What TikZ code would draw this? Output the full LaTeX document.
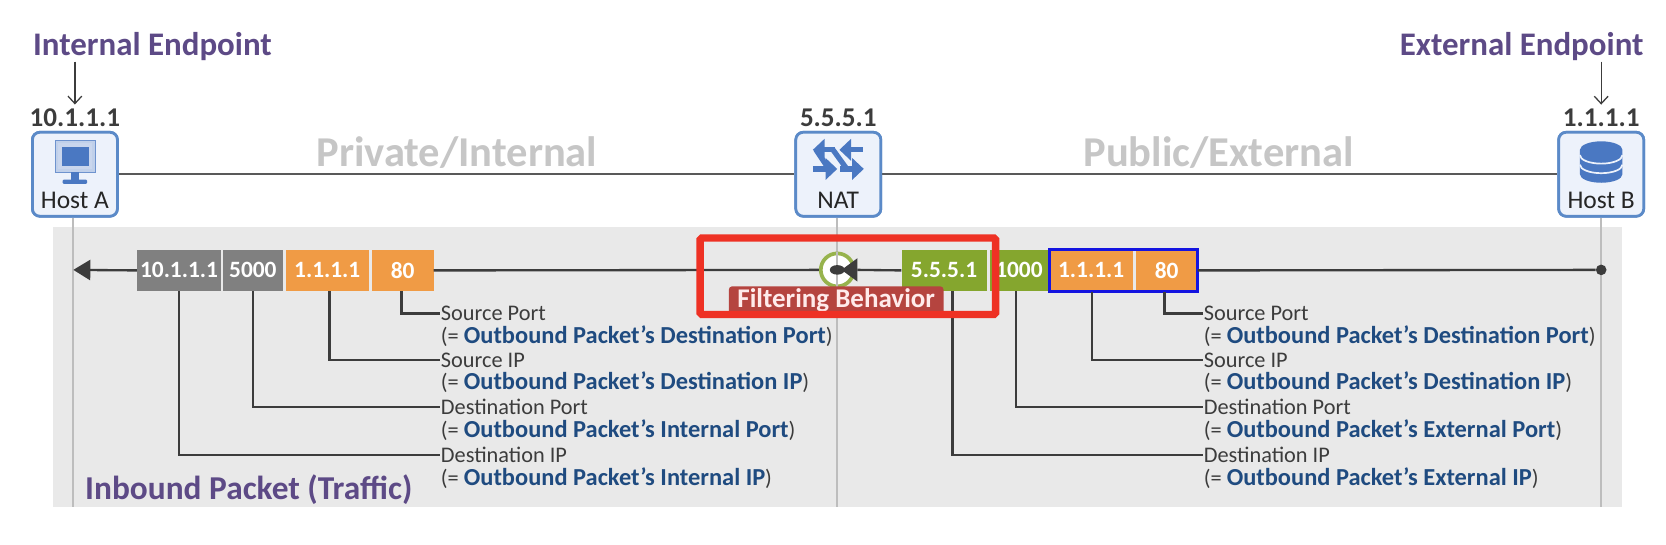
\documentclass[tikz,border=0pt]{standalone}
\usepackage{fontspec}
\setmainfont{Carlito}
\usetikzlibrary{calc,arrows.meta}
\definecolor{panelgray}{HTML}{E9E9E9}
\definecolor{vline}{HTML}{BDBDBD}
\definecolor{ink}{HTML}{3C3C3C}
\definecolor{purp}{HTML}{5D4A86}
\definecolor{zone}{HTML}{C6C6C6}
\definecolor{hostfill}{HTML}{EDF2FB}
\definecolor{hostline}{HTML}{5B8AC8}
\definecolor{iconblue}{HTML}{4A78C2}
\definecolor{pgray}{HTML}{808080}
\definecolor{porange}{HTML}{F09B45}
\definecolor{pgreen}{HTML}{85A62E}
\definecolor{navy}{HTML}{1F4B80}
\definecolor{redlabel}{HTML}{B5443F}
\definecolor{redbox}{HTML}{EE3124}
\definecolor{bluebox}{HTML}{1414E0}
\tikzset{
  x=1pt,y=-1pt,
  hostbox/.style={draw=hostline,line width=2.6pt,fill=hostfill,rounded corners=7pt,minimum width=80pt,minimum height=79pt,inner sep=0pt},
  hosttext/.style={font=\fontsize{24}{24}\selectfont,text=black!85,inner sep=0pt},
  iptext/.style={font=\fontsize{25.5}{25.5}\selectfont\bfseries,text=ink,inner sep=0pt},
  endtitle/.style={font=\fontsize{31}{31}\selectfont\bfseries,text=purp,inner sep=0pt},
  zonetext/.style={font=\fontsize{40}{40}\selectfont\bfseries,text=zone,inner sep=0pt},
  field/.style={minimum height=39pt,inner sep=0pt,text=white,font=\fontsize{22}{22}\selectfont\bfseries},
  lbl/.style={anchor=west,inner sep=0pt,outer sep=1pt,text=ink,font=\fontsize{21}{21}\selectfont},
  sub/.style={anchor=west,inner sep=0pt,outer sep=1pt,text=ink,font=\fontsize{21}{21}\selectfont},
  conn/.style={draw=ink,line width=2.2pt},
  thinarrow/.style={draw=ink,line width=1.2pt,-{Straight Barb[length=7pt,width=13pt,line width=1.2pt]}},
  natarrow/.style={draw=iconblue,line width=5pt,-{Triangle[length=11pt,width=20pt]}},
}
\newcommand{\subline}[1]{(= \textcolor{navy}{\fontsize{23}{23}\selectfont\bfseries Outbound Packet’s #1})}
\begin{document}
\begin{tikzpicture}
\useasboundingbox (0,0) rectangle (1568,512);
\fill[white] (0,0) rectangle (1568,512);
\fill[panelgray] (50,214) rectangle (1527,477);

% endpoints
\node[hostbox] (hosta) at (70.5,164) {};
\node[hostbox] (nat) at (789,164) {};
\node[hostbox] (hostb) at (1507,164) {};
\draw[vline,line width=1.6pt] ($(hosta.south)+(-1.5,0)$) -- (69,477);
\draw[vline,line width=1.6pt] ($(nat.south)+(-1,0)$) -- (788,477);
\draw[vline,line width=1.6pt] (hostb.south) -- (1507,477);
\draw[draw=ink!85,line width=2pt] (hosta) -- (nat);
\draw[draw=ink!85,line width=2pt] (nat) -- (hostb);
\node[hostbox] at (hosta) {};
\node[hostbox] at (nat) {};
\node[hostbox] at (hostb) {};
\node[hosttext] (hostal) at (70.5,189) {Host A};
\node[hosttext] (natl) at (789,189) {NAT};
\node[hosttext] (hostbl) at (1507,189) {Host B};
\node[iptext] (ipa) at (70.5,111) {10.1.1.1};
\node[iptext] (ipn) at (789,111) {5.5.5.1};
\node[iptext] (ipb) at (1507,111) {1.1.1.1};
\node[endtitle,anchor=west] (ie) at (31,43.5) {Internal Endpoint};
\node[endtitle,anchor=east] (ee) at (1547,43.5) {External Endpoint};
\coordinate (iec) at (70.5,58);
\coordinate (eec) at (1507,58);
\draw[thinarrow] (iec) -- ($(ipa.north)+(0,-4)$);
\draw[thinarrow] (eec) -- ($(ipb.north)+(0,-4)$);
\node[zonetext] (priv) at (430,144) {Private/Internal};
\node[zonetext] (pub) at (1147,144) {Public/External};

% monitor icon
\fill[iconblue!35,draw=iconblue!80,line width=1pt] (52,132) rectangle (90,162);
\fill[white!70!iconblue] (55,135) rectangle (87,159);
\fill[iconblue] (58,138) rectangle (84,156);
\fill[iconblue] (67,162) rectangle (74,170);
\fill[iconblue,rounded corners=1pt] (59,169) rectangle (82,173);

% database icon
\fill[iconblue] (1487,141) -- (1487,164) arc[start angle=180,end angle=360,x radius=20,y radius=-8] -- (1527,141) arc[start angle=0,end angle=180,x radius=20,y radius=-8] -- cycle;
\draw[hostfill,line width=1.6pt] (1487,146) arc[start angle=180,end angle=360,x radius=20,y radius=-8];
\draw[hostfill,line width=1.6pt] (1487,155) arc[start angle=180,end angle=360,x radius=20,y radius=-8];

% NAT icon
\draw[iconblue,line width=5pt] (784,141) -- (797,159);
\draw[iconblue,line width=5pt] (768,141) -- (780,159);
\draw[natarrow] (786,141) -- (765,141);
\draw[natarrow] (812,141) -- (790,141);
\draw[natarrow] (765,159) -- (788,159);
\draw[natarrow] (791,159) -- (813,159);

% packet line
\coordinate (arrowend) at (69,254);
\node[field,fill=pgray,minimum width=79pt] (a1) at (168.5,254.5) {10.1.1.1};
\node[field,fill=pgray,minimum width=56pt] (a2) at (238,254.5) {5000};
\node[field,fill=porange,minimum width=78pt] (a3) at (308,254.5) {1.1.1.1};
\node[field,fill=porange,minimum width=58pt] (a4) at (379,254.5) {80};
\node[field,fill=pgreen,minimum width=80pt] (b1) at (888.5,254.5) {5.5.5.1};
\node[field,fill=pgreen,minimum width=54pt] (b2) at (959,254.5) {1000};
\node[field,fill=porange,minimum width=78pt] (b3) at (1027,254.5) {1.1.1.1};
\node[field,fill=porange,minimum width=58pt] (b4) at (1098,254.5) {80};
\draw[draw=bluebox,line width=2.6pt] (b3.south west) rectangle (b4.north east);
\node[circle,draw=pgreen!85!white,line width=3.5pt,fill=white,minimum size=31pt,inner sep=0pt] (filter) at (788,254) {};
\draw[vline,line width=1.6pt] (filter.north) -- (filter.south);
\fill[ink] (788,254) ellipse (7pt and 4.5pt);
\fill[ink] (807,243) -- (792,254) -- (807,265) -- cycle;
\node[circle,fill=ink,minimum size=10pt,inner sep=0pt] (hbdot) at (1507,254) {};
\draw[-{Triangle[length=16pt,width=19pt]},conn] (a1.west) -- (arrowend);
\draw[conn] (a4.east) -- (filter);
\draw[conn] (b1.west) -- (807,254);
\draw[conn] (b4.east) -- (hbdot);

% left labels
\node[lbl] (l1) at (414,295) {Source Port};
\node[sub] (l1s) at (414,316) {\subline{Destination Port}};
\node[lbl] (l2) at (414,339) {Source IP};
\node[sub] (l2s) at (414,360) {\subline{Destination IP}};
\node[lbl] (l3) at (414,383) {Destination Port};
\node[sub] (l3s) at (414,405) {\subline{Internal Port}};
\node[lbl] (l4) at (414,428) {Destination IP};
\node[sub] (l4s) at (414,450) {\subline{Internal IP}};
\draw[conn] ($(a4.south)+(-1,0)$) |- (l1.west);
\draw[conn] ($(a3.south)+(2,0)$) |- (l2.west);
\draw[conn] (a2.south) |- (l3.west);
\draw[conn] (a1.south) |- (l4.west);

% right labels
\node[lbl] (r1) at (1132,295) {Source Port};
\node[sub] (r1s) at (1132,316) {\subline{Destination Port}};
\node[lbl] (r2) at (1132,339) {Source IP};
\node[sub] (r2s) at (1132,360) {\subline{Destination IP}};
\node[lbl] (r3) at (1132,383) {Destination Port};
\node[sub] (r3s) at (1132,405) {\subline{External Port}};
\node[lbl] (r4) at (1132,428) {Destination IP};
\node[sub] (r4s) at (1132,450) {\subline{External IP}};
\draw[conn] ($(b4.south)+(-2,1)$) |- (r1.west);
\draw[conn] ($(b3.south)+(1,1)$) |- (r2.west);
\draw[conn] ($(b2.south)+(-3,0)$) |- (r3.west);
\draw[conn] ($(b1.south)+(8,0)$) |- (r4.west);

\node[anchor=west,inner sep=0pt,text=purp,font=\fontsize{31.4}{31.4}\selectfont\bfseries] (inb) at (80,461) {Inbound Packet (Traffic)};

% highlight
\node[fill=redlabel,rounded corners=3pt,minimum width=202pt,minimum height=27pt,inner sep=0pt,text=white!92!red,font=\fontsize{25.4}{25.4}\selectfont\bfseries] (fb) at (787,283) {Filtering Behavior};
\draw[redbox,line width=7pt,rounded corners=1.5pt] (659,224) rectangle (937,296);
\end{tikzpicture}
\end{document}
